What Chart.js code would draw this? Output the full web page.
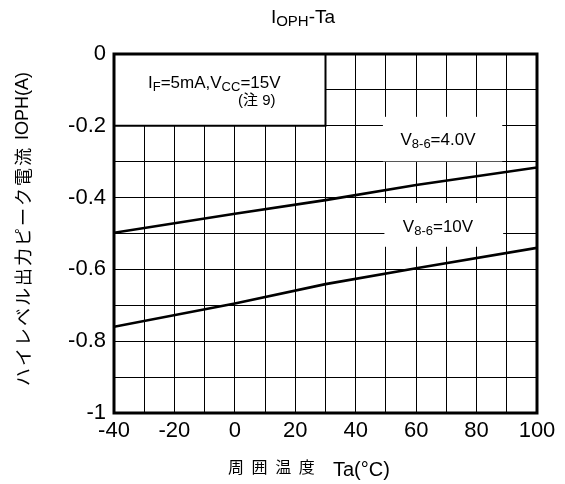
<!DOCTYPE html>
<html><head><meta charset="utf-8">
<script src="https://cdn.jsdelivr.net/npm/chart.js@4"></script>
<style>html,body{margin:0;padding:0;background:#fff}#wrap{width:565px;height:484px;position:relative}</style>
</head><body><div id="wrap"><canvas id="c" width="565" height="484"></canvas></div>
<script>
// ---- data ----
const temps = [-40, 0, 30, 60, 100];                       // Ta (°C)
const iophV4 = [-0.498, -0.445, -0.407, -0.365, -0.316];    // V8-6 = 4.0V
const iophV10 = [-0.760, -0.695, -0.641, -0.597, -0.540];   // V8-6 = 10V
const xTickLabels = [-40, -20, 0, 20, 40, 60, 80, 100];
const yTickLabels = [0, -0.2, -0.4, -0.6, -0.8, -1];

const FONT = '"Liberation Sans", Arial, "Noto Sans CJK JP", sans-serif';
const CJK = '"Noto Sans CJK JP", "Liberation Sans", sans-serif';

// white masks (data coordinates)
const condBox = {x0: -40, x1: 30, y0: 0, y1: -0.2};
const labelBoxes = [
  {x0: 49, x1: 88.5, y0: -0.175, y1: -0.299},
  {x0: 49.5, x1: 88.8, y0: -0.415, y1: -0.537}
];

function runs(ctx, parts, x, y, align) {
  let total = 0;
  parts.forEach(p => { ctx.font = p[1] + 'px ' + (p[3] || FONT); ctx.letterSpacing = (p[4] || 0) + 'px'; total += ctx.measureText(p[0]).width; });
  let cx = align === 'center' ? x - total / 2 : (align === 'right' ? x - total : x);
  parts.forEach(p => {
    ctx.font = p[1] + 'px ' + (p[3] || FONT);
    ctx.letterSpacing = (p[4] || 0) + 'px';
    ctx.fillText(p[0], cx, y + (p[2] || 0));
    cx += ctx.measureText(p[0]).width;
  });
  ctx.letterSpacing = '0px';
}

const decor = {
  id: 'decor',
  beforeDatasetsDraw(chart) {
    const {ctx, scales: {x, y}} = chart;
    ctx.save();
    ctx.fillStyle = '#fff';
    [condBox, ...labelBoxes].forEach(b => {
      const l = x.getPixelForValue(b.x0), r = x.getPixelForValue(b.x1);
      const t = y.getPixelForValue(b.y0), bt = y.getPixelForValue(b.y1);
      ctx.fillRect(l, t, r - l, bt - t);
    });
    const r = x.getPixelForValue(condBox.x1), bt = y.getPixelForValue(condBox.y1);
    ctx.strokeStyle = '#000';
    ctx.lineWidth = 2;
    ctx.beginPath();
    ctx.moveTo(r, chart.chartArea.top);
    ctx.lineTo(r, bt);
    ctx.lineTo(chart.chartArea.left, bt);
    ctx.stroke();
    ctx.restore();
  },
  afterDraw(chart) {
    const {ctx, chartArea: a} = chart;
    ctx.save();
    ctx.strokeStyle = '#000';
    ctx.lineWidth = 3;
    ctx.strokeRect(a.left, a.top, a.right - a.left, a.bottom - a.top);
    ctx.fillStyle = '#000';
    ctx.textBaseline = 'alphabetic';
    // title
    runs(ctx, [['I', 19], ['OPH', 15, 3], ['-Ta', 19]], 303, 23, 'center');
    // conditions
    runs(ctx, [['I', 17], ['F', 13, 3], ['=5mA,V', 17], ['CC', 13, 3], ['=15V', 17]], 148, 88, 'left');
    runs(ctx, [['(注 9)', 15]], 238, 105, 'left');
    // curve labels
    runs(ctx, [['V', 17], ['8-6', 13, 3], ['=4.0V', 17]], 438, 145, 'center');
    runs(ctx, [['V', 17], ['8-6', 13, 3], ['=10V', 17]], 438, 232, 'center');
    // x title
    runs(ctx, [['周 囲 温 度', 16, 0, CJK, 2]], 228, 473, 'left');
    runs(ctx, [['Ta(°C)', 20]], 333, 476, 'left');
    // y title
    ctx.translate(23, 229);
    ctx.rotate(-Math.PI / 2);
    ctx.textBaseline = 'middle';
    runs(ctx, [['ハイレベル出力ピーク電流 ', 18, 0, CJK, 2], ['IOPH(A)', 18]], 0, 0, 'center');
    ctx.restore();
  }
};

new Chart(document.getElementById('c'), {
  type: 'line',
  data: {
    datasets: [
      {label: 'V8-6=4.0V', data: temps.map((t, i) => ({x: t, y: iophV4[i]}))},
      {label: 'V8-6=10V', data: temps.map((t, i) => ({x: t, y: iophV10[i]}))}
    ].map(d => Object.assign(d, {borderColor: '#000', borderWidth: 2.6, pointRadius: 0, tension: 0, fill: false}))
  },
  options: {
    responsive: false, animation: false, devicePixelRatio: 1,
    layout: {padding: {left: 0, top: 54, right: 28, bottom: 0}},
    plugins: {legend: {display: false}, tooltip: {enabled: false}, title: {display: false}},
    scales: {
      x: {
        type: 'linear', min: -40, max: 100,
        ticks: {
          stepSize: 10, autoSkip: false, maxRotation: 0, color: '#000', padding: 5,
          font: {family: FONT, size: 22},
          callback: v => xTickLabels.includes(Math.round(v)) ? String(Math.round(v)) : ''
        },
        grid: {color: '#000', lineWidth: 1, drawTicks: false},
        border: {display: false},
        afterFit: s => { s.height = 71; s.paddingLeft = 0; s.paddingRight = 0; }
      },
      y: {
        type: 'linear', min: -1, max: 0,
        ticks: {
          stepSize: 0.1, autoSkip: false, color: '#000', padding: 8,
          font: {family: FONT, size: 22},
          callback: v => {
            const m = yTickLabels.find(t => Math.abs(t - v) < 1e-6);
            if (m === undefined) return '';
            return (m === 0 || m === -1) ? String(m) : m.toFixed(1);
          }
        },
        grid: {color: '#000', lineWidth: 1, drawTicks: false},
        border: {display: false},
        afterFit: s => { s.width = 114; s.paddingTop = 0; s.paddingBottom = 0; }
      }
    }
  },
  plugins: [decor]
});
</script>
</body></html>
